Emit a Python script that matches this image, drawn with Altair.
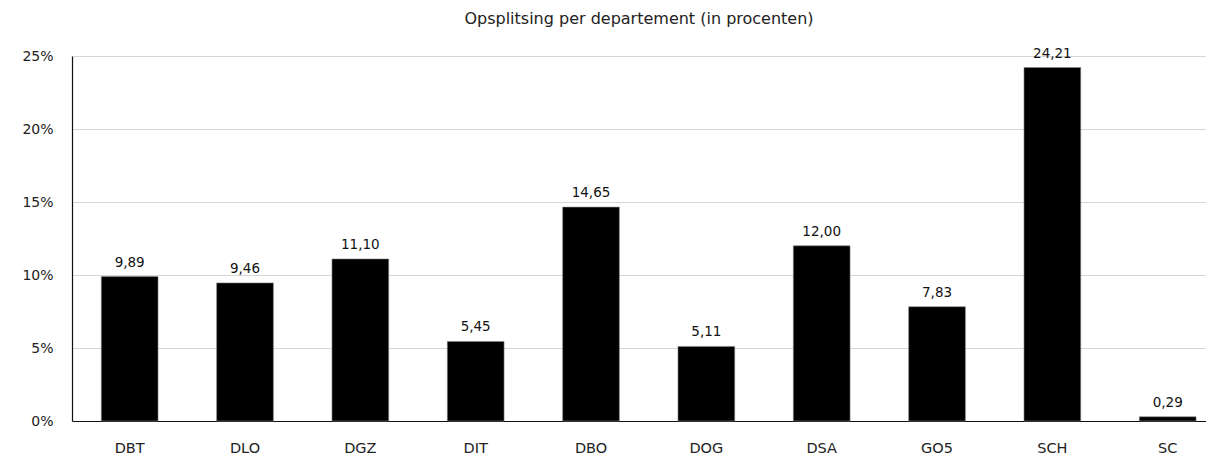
import altair as alt
import pandas as pd

departments = ["DBT", "DLO", "DGZ", "DIT", "DBO", "DOG", "DSA", "GO5", "SCH", "SC"]
values = [9.89, 9.46, 11.10, 5.45, 14.65, 5.11, 12.00, 7.83, 24.21, 0.29]
labels = ["9,89", "9,46", "11,10", "5,45", "14,65", "5,11", "12,00", "7,83", "24,21", "0,29"]

df = pd.DataFrame({"dep": departments, "val": values, "lab": labels})

FONT = "DejaVu Sans"

x = alt.X(
    "dep:N",
    sort=departments,
    title=None,
    scale=alt.Scale(paddingInner=0.508, paddingOuter=0.17, align=0.747),
    axis=alt.Axis(
        labelAngle=0,
        labelFontSize=14.5,
        labelFont=FONT,
        labelColor="#222",
        labelPadding=20,
        ticks=False,
        domainColor="#111",
        domainWidth=1.2,
        grid=False,
    ),
)
y = alt.Y(
    "val:Q",
    title=None,
    scale=alt.Scale(domain=[0, 25], nice=False),
    axis=alt.Axis(
        values=[0, 5, 10, 15, 20, 25],
        labelExpr="datum.value + '%'",
        labelFontSize=14,
        labelFont=FONT,
        labelColor="#222",
        labelPadding=19,
        ticks=False,
        domainColor="#111",
        domainWidth=1.2,
        gridColor="#d6d6d6",
        gridWidth=1,
    ),
)

bars = alt.Chart(df).mark_bar(color="#000000", stroke="#888888", strokeWidth=0.6).encode(x=x, y=y)
text = alt.Chart(df).mark_text(
    baseline="bottom", dy=-7, fontSize=13.5, font=FONT, color="#111"
).encode(x=x, y=y, text="lab:N")

chart = (
    alt.layer(bars, text)
    .properties(
        width=1134,
        height=365,
        title=alt.TitleParams(
            "Opsplitsing per departement (in procenten)",
            fontSize=16,
            font=FONT,
            fontWeight="normal",
            color="#222",
            anchor="middle",
            offset=20,
        ),
        autosize=alt.AutoSizeParams(type="none"),
        padding={"left": 64, "top": 48, "right": 0, "bottom": 38},
    )
    .configure_view(stroke=None)
)

chart.save("out.html", embed_options={"renderer": "svg", "actions": False})
